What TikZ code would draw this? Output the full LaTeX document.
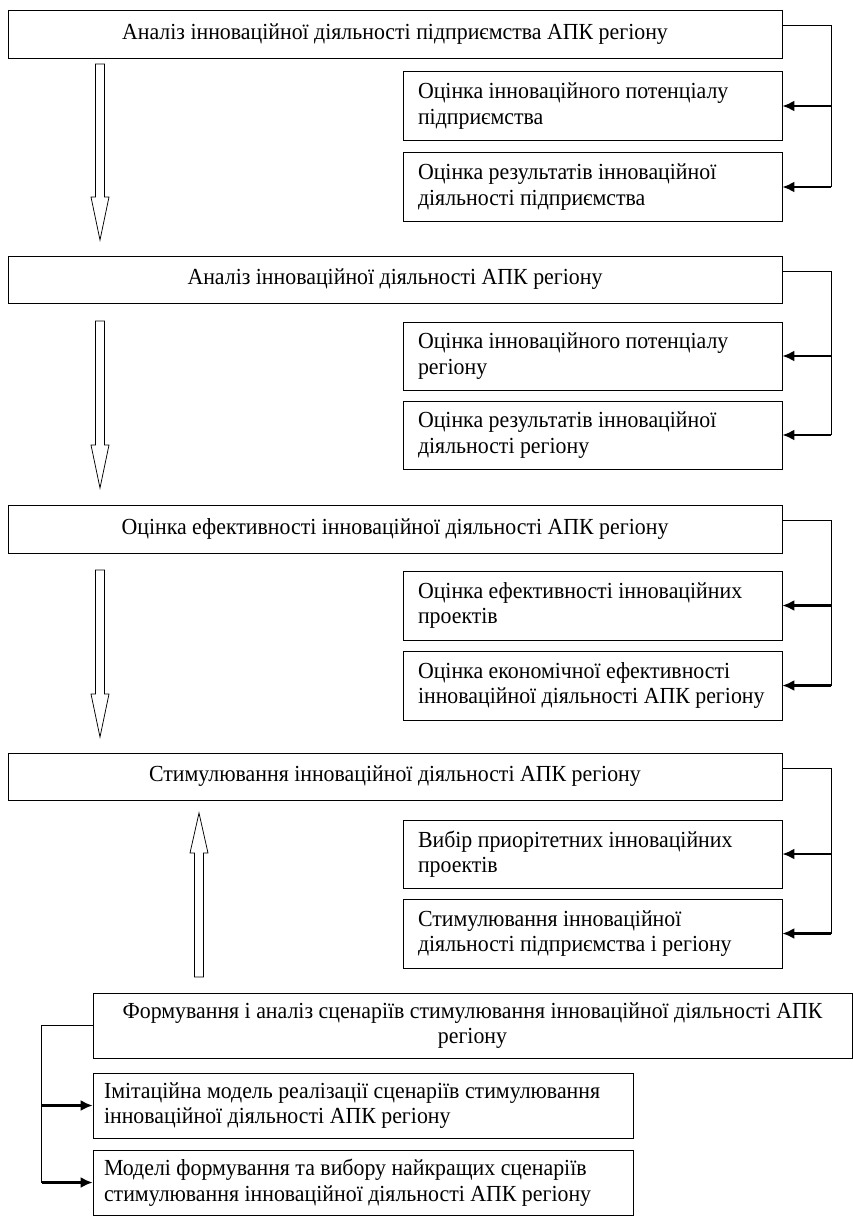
\documentclass[tikz,border=0pt]{standalone}
\usepackage{fontspec}
\setmainfont{Liberation Serif}[FakeStretch=0.95]
\usetikzlibrary{calc,arrows.meta}

\newcommand\dfont{\fontsize{23}{25.5}\selectfont}
% hollow block arrow: x, tail y, head base y, tip y
\newcommand\hollowarr[4]{%
  \draw (#1-4.5,#2) -- (#1-4.5,#3) -- (#1-9,#3) -- (#1,#4) -- (#1+9,#3) -- (#1+4.5,#3) -- (#1+4.5,#2) -- cycle;}

\tikzset{every picture/.style={line width=0.75pt}}
\tikzset{
	stagebox/.style={draw, minimum width=774, minimum height=48, inner sep=0pt, align=center, font=\dfont},
	subbox/.style={draw, minimum width=379, minimum height=69, text width=364, inner xsep=7.5, inner ysep=0pt, align=flush left, font=\dfont, execute at begin node={\leftskip=7.5pt}},
	modelbox/.style={draw, minimum width=540, minimum height=65, text width=518, inner xsep=11, inner ysep=0pt, align=flush left, font=\dfont},
	feed/.style={line width=2.2pt, -{Latex[length=12pt,width=11pt]}}
}

\begin{document}
\begin{tikzpicture}[x=1pt,y=1pt,yscale=-1,xscale=1]
	\useasboundingbox (0,0) rectangle (853,1221);

	% Stage 1
	\node[stagebox] (st1) at (395,34) {Аналіз інноваційної діяльності підприємства АПК регіону};
	\node[subbox] (s1a) at (592.5,106) {Оцінка інноваційного потенціалу\\підприємства};
	\node[subbox] (s1b) at (592.5,187) {Оцінка результатів інноваційної\\діяльності підприємства};

	% Stage 2
	\node[stagebox, minimum height=47] (st2) at (395,279.5) {Аналіз інноваційної діяльності АПК регіону};
	\node[subbox, minimum height=68] (s2a) at (592.5,356) {Оцінка інноваційного потенціалу\\регіону};
	\node[subbox, minimum height=68] (s2b) at (592.5,435) {Оцінка результатів інноваційної\\діяльності регіону};

	% Stage 3
	\node[stagebox] (st3) at (395,529) {Оцінка ефективності інноваційної діяльності АПК регіону};
	\node[subbox] (s3a) at (592.5,605.5) {Оцінка ефективності інноваційних\\проектів};
	\node[subbox] (s3b) at (592.5,685.5) {Оцінка економічної ефективності\\інноваційної діяльності АПК регіону};

	% Stage 4
	\node[stagebox, minimum height=47] (st4) at (395,776.5) {Стимулювання інноваційної діяльності АПК регіону};
	\node[subbox, minimum height=68] (s4a) at (592.5,854) {Вибір приорітетних інноваційних\\проектів};
	\node[subbox] (s4b) at (592.5,933.5) {Стимулювання інноваційної\\діяльності підприємства і регіону};

	% Scenarios
	\node[stagebox, minimum width=759, minimum height=65] (sc) at (472.5,1025.5) {Формування і аналіз сценаріїв стимулювання інноваційної діяльності АПК\\регіону};
	\node[modelbox] (ma) at (363,1105.5) {Імітаційна модель реалізації сценаріїв стимулювання\\інноваційної діяльності АПК регіону};
	\node[modelbox] (mb) at (363,1182.5) {Моделі формування та вибору найкращих сценаріїв\\стимулювання інноваційної діяльності АПК регіону};

	% rails
	\coordinate (o1) at ($(st1.north east)!0.32!(st1.south east)$);
	\coordinate (o2) at ($(st2.north east)!0.32!(st2.south east)$);
	\coordinate (o3) at ($(st3.north east)!0.32!(st3.south east)$);
	\coordinate (o4) at ($(st4.north east)!0.32!(st4.south east)$);
	\coordinate (r1) at ($(o1)+(49,0)$);
	\coordinate (r2) at ($(o2)+(49,0)$);
	\coordinate (r3) at ($(o3)+(49,0)$);
	\coordinate (r4) at ($(o4)+(49,0)$);
	\coordinate (l5) at ($(sc.west)+(-51,0)$);

	%Straight Lines
	\draw (o1) -- (r1) -- (r1 |- s1b.east);
	\draw[feed] (r1 |- s1a.east) -- (s1a.east);
	\draw[feed] (r1 |- s1b.east) -- (s1b.east);
	\draw (o2) -- (r2) -- (r2 |- s2b.east);
	\draw[feed] (r2 |- s2a.east) -- (s2a.east);
	\draw[feed] (r2 |- s2b.east) -- (s2b.east);
	\draw (o3) -- (r3) -- (r3 |- s3b.east);
	\draw[feed] (r3 |- s3a.east) -- (s3a.east);
	\draw[feed] (r3 |- s3b.east) -- (s3b.east);
	\draw (o4) -- (r4) -- (r4 |- s4b.east);
	\draw[feed] (r4 |- s4a.east) -- (s4a.east);
	\draw[feed] (r4 |- s4b.east) -- (s4b.east);
	\draw (sc.west) -- (l5) -- (l5 |- mb.west);
	\draw[feed] (l5 |- ma.west) -- (ma.west);
	\draw[feed] (l5 |- mb.west) -- (mb.west);

	% Block arrows
	\hollowarr{100}{64}{197}{240}
	\hollowarr{100}{321}{445}{488}
	\hollowarr{100}{570}{694}{737}
	\hollowarr{199}{977}{853}{813}

\end{tikzpicture}
\end{document}
